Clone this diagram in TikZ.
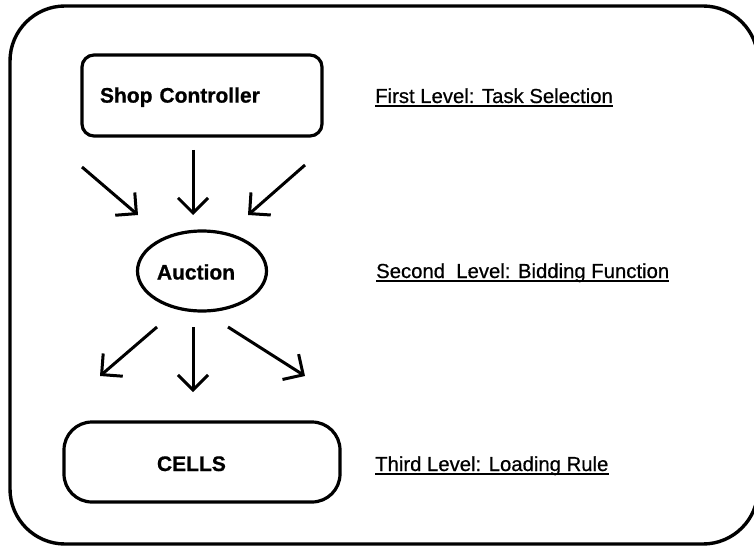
\documentclass[tikz,border=0pt]{standalone}
\usepackage{fontspec}
\setmainfont{Liberation Sans}
\newfontfamily\labelfont[FakeBold=0.6]{Liberation Sans}
\newfontfamily\unitfont[FakeBold=0.8]{Liberation Sans Bold}
\usetikzlibrary{arrows.meta,shapes.geometric}
\begin{document}
\begin{tikzpicture}[x=1pt,y=-1pt,
  frame/.style={draw, line width=3.4pt, rounded corners=55pt},
  unitbox/.style={draw, line width=3.2pt, font=\unitfont\fontsize{21}{24}\selectfont, align=left},
  levellabel/.style={font=\labelfont\fontsize{20.3}{24}\selectfont, inner sep=0pt, anchor=base west},
  underl/.style={line width=2pt},
  flow/.style={line width=3pt, -{Straight Barb[length=15pt,width=30pt]}}]
\useasboundingbox (0,0) rectangle (754,548);

% outer frame
\draw[frame] (10,6) rectangle (758,544);

% the three levels
\node[unitbox, rounded corners=12pt, minimum width=240pt, minimum height=81pt,
      inner xsep=18pt, text width=204pt, text depth=1pt] (ctrl) at (202,95.5) {Shop Controller};
\node[draw, ellipse, line width=3.2pt, minimum width=129pt, minimum height=80pt,
      inner sep=0pt, label={[font=\unitfont\fontsize{21}{24}\selectfont, xshift=-6pt, yshift=-1pt]center:Auction}] (auct) at (202,271) {};
\node[unitbox, rounded corners=28pt, minimum width=276pt, minimum height=80pt,
      inner xsep=93pt, text width=90pt, text height=18pt, text depth=0pt] (cells) at (202,462) {CELLS};

% level descriptions
\node[levellabel] (lab1) at (375,103) {First Level: Task Selection};
\node[levellabel] (lab2) at (376,278) {Second\ \ Level: Bidding Function};
\node[levellabel] (lab3) at (375,471) {Third Level: Loading Rule};
\foreach \l in {lab1,lab2,lab3}
  \draw[underl] ([yshift=-3pt]\l.base west) -- ([yshift=-3pt]\l.base east);

% arrows from the controller to the auction
\coordinate (a1s) at (82,167);  \coordinate (a1e) at (138,215);
\coordinate (a2s) at (193,150); \coordinate (a2e) at (193,215);
\coordinate (a3s) at (305,165); \coordinate (a3e) at (248,215);
\draw[flow] (a1s) -- (a1e);
\draw[flow] (a2s) -- (a2e);
\draw[flow] (a3s) -- (a3e);

% arrows from the auction to the cells
\coordinate (b1s) at (157,327); \coordinate (b1e) at (100,376);
\coordinate (b2s) at (193,327); \coordinate (b2e) at (193,392);
\coordinate (b3s) at (228,327); \coordinate (b3e) at (305,376);
\draw[flow] (b1s) -- (b1e);
\draw[flow] (b2s) -- (b2e);
\draw[flow] (b3s) -- (b3e);
\end{tikzpicture}
\end{document}
